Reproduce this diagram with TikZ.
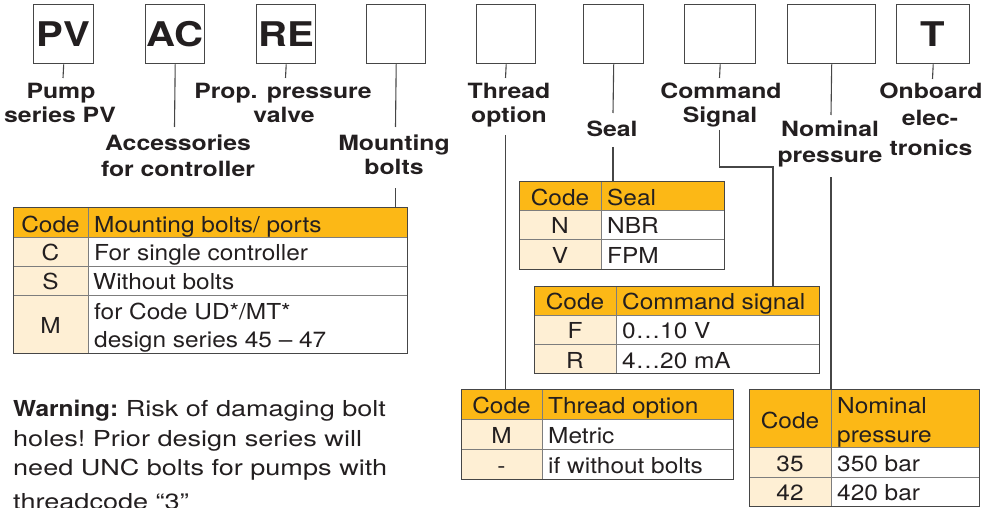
\documentclass[tikz,border=0pt]{standalone}
\usepackage{fontspec}
\setmainfont{TeX Gyre Heros}
\newfontfamily\lblfont[FakeStretch=1.18]{TeX Gyre Heros}
\newfontfamily\tabfont[FakeStretch=1.11]{TeX Gyre Heros}
\newfontfamily\notefont[FakeStretch=1.23]{TeX Gyre Heros}
\definecolor{ink}{RGB}{35,31,32}
\definecolor{hdr}{RGB}{252,184,22}
\definecolor{codebg}{RGB}{254,239,212}
\definecolor{rule}{RGB}{70,70,70}
\definecolor{gridc}{RGB}{125,125,125}

\begin{document}
\begin{tikzpicture}[x=1pt,y=-1pt,
  codebox/.style={draw=rule,line width=1.4pt,fill=white,inner sep=0pt,minimum height=59pt,
    anchor=north west,text=ink,font=\lblfont\bfseries\fontsize{34}{40}\selectfont},
  lbl/.style={inner sep=0pt,anchor=base,text=ink,font=\lblfont\bfseries\fontsize{21}{25}\selectfont},
  conn/.style={draw=rule,line width=1.1pt},
  tframe/.style={draw=rule,line width=1.3pt,inner sep=0pt,anchor=north west},
  gridline/.style={draw=gridc,line width=1pt},
  tc/.style={inner sep=0pt,anchor=base,text=ink,font=\tabfont\fontsize{22}{26}\selectfont},
  td/.style={tc,anchor=base west},
  wnote/.style={inner sep=0pt,anchor=base west,text=ink,
    font=\notefont\fontsize{22}{29}\selectfont\frenchspacing}
]
\useasboundingbox (0,0) rectangle (993,508);

% ---- ordering code boxes ----
\node[codebox,minimum width=60pt] (bPV) at (33,4) {PV};
\node[codebox,minimum width=59pt] (bAC) at (145,4) {AC};
\node[codebox,minimum width=59pt] (bRE) at (256,4) {RE};
\node[codebox,minimum width=59pt] (bMnt) at (366,4) {};
\node[codebox,minimum width=59pt] (bThr) at (476,4) {};
\node[codebox,minimum width=60pt] (bSeal) at (583,4) {};
\node[codebox,minimum width=71pt] (bCmd) at (684,4) {};
\node[codebox,minimum width=88pt] (bNom) at (787,4) {};
\node[codebox,minimum width=73pt] (bT) at (896,4) {T};

% ---- labels ----
\node[lbl] (lPVa) at (61,99) {Pump};
\node[lbl] (lPVb) at (60,123) {series PV};
\node[lbl] (lACa) at (178,150) {Accessories};
\node[lbl] (lACb) at (178,176) {for controller};
\node[lbl] (lREa) at (283,99) {Prop. pressure};
\node[lbl] (lREb) at (284,123) {valve};
\node[lbl] (lMnta) at (394,150) {Mounting};
\node[lbl] (lMntb) at (394,175) {bolts};
\node[lbl] (lThra) at (509,99) {Thread};
\node[lbl] (lThrb) at (509,123) {option};
\node[lbl] (lSeal) at (612,137) {Seal};
\node[lbl] (lCmda) at (721,99) {Command};
\node[lbl] (lCmdb) at (720,123) {Signal};
\node[lbl] (lNoma) at (830,137) {Nominal};
\node[lbl] (lNomb) at (830,163) {pressure};
\node[lbl] (lTa) at (931,99) {Onboard};
\node[lbl] (lTb) at (930,125) {elec-};
\node[lbl] (lTc) at (931,156) {tronics};

% ---- table: mounting bolts ----
\fill[hdr] (13,207) rectangle (407,237);
\fill[codebg] (13,237) rectangle (88,353);
\draw[gridline] (13,237) -- (407,237) (13,266) -- (407,266) (13,295) -- (407,295)
  (88,207) -- (88,353);
\node[tframe,minimum width=394pt,minimum height=146pt] (tMnt) at (13,207) {};
\node[tc] (mh1) at (50.5,232) {Code};
\node[td] (mh2) at (94,232) {Mounting bolts/ ports};
\node[tc] (m1a) at (50.5,260) {C};
\node[td] (m1b) at (94,260) {For single controller};
\node[tc] (m2a) at (50.5,289) {S};
\node[td] (m2b) at (93,289) {Without bolts};
\node[tc] (m3a) at (50.5,333) {M};
\node[td] (m3b) at (94,319) {for Code UD*/MT*};
\node[td] (m3c) at (94,347) {design series 45 – 47};

% ---- table: seal ----
\fill[hdr] (519,181) rectangle (724,210);
\fill[codebg] (519,210) rectangle (601,269);
\draw[gridline] (519,210) -- (724,210) (519,239) -- (724,239) (601,181) -- (601,269);
\node[tframe,minimum width=205pt,minimum height=88pt] (tSeal) at (519,181) {};
\node[tc] (sh1) at (560,205) {Code};
\node[td] (sh2) at (607,205) {Seal};
\node[tc] (s1a) at (560,233) {N};
\node[td] (s1b) at (607,233) {NBR};
\node[tc] (s2a) at (560,263) {V};
\node[td] (s2b) at (607,263) {FPM};

% ---- table: command signal ----
\fill[hdr] (534,286) rectangle (819,315);
\fill[codebg] (534,315) rectangle (616,373);
\draw[gridline] (534,315) -- (819,315) (534,344) -- (819,344) (616,286) -- (616,373);
\node[tframe,minimum width=285pt,minimum height=87pt] (tCmd) at (534,286) {};
\node[tc] (ch1) at (575,309) {Code};
\node[td] (ch2) at (622,309) {Command signal};
\node[tc] (c1a) at (575,338) {F};
\node[td] (c1b) at (622,338) {0…10 V};
\node[tc] (c2a) at (575,368) {R};
\node[td] (c2b) at (622,368) {4…20 mA};

% ---- table: thread option ----
\fill[hdr] (461,389) rectangle (733,419);
\fill[codebg] (461,419) rectangle (542,479);
\draw[gridline] (461,419) -- (733,419) (461,449) -- (733,449) (542,389) -- (542,479);
\node[tframe,minimum width=272pt,minimum height=90pt] (tThr) at (461,389) {};
\node[tc] (th1) at (501.5,413) {Code};
\node[td] (th2) at (548,413) {Thread option};
\node[tc] (t1a) at (501.5,443) {M};
\node[td] (t1b) at (548,443) {Metric};
\node[tc] (t2a) at (501.5,473) {-};
\node[td] (t2b) at (548,473) {if without bolts};

% ---- table: nominal pressure ----
\fill[hdr] (749,389) rectangle (979,447);
\fill[codebg] (749,447) rectangle (831,506);
\draw[gridline] (749,447) -- (979,447) (749,477) -- (979,477) (831,389) -- (831,506);
\node[tframe,minimum width=230pt,minimum height=117pt] (tNom) at (749,389) {};
\node[tc] (nh1) at (790,428) {Code};
\node[td] (nh2) at (837,413) {Nominal};
\node[td] (nh3) at (837,442) {pressure};
\node[tc] (n1a) at (790,471) {35};
\node[td] (n1b) at (837,471) {350 bar};
\node[tc] (n2a) at (790,500) {42};
\node[td] (n2b) at (837,500) {420 bar};

% ---- connectors ----
\coordinate (kPV) at (63,78);
\coordinate (kAC) at (174.5,127);
\coordinate (kRE) at (285.5,78);
\coordinate (kMntA) at (395.5,127);
\coordinate (kMntB) at (395.5,188);
\coordinate (kThrA) at (505.5,78);
\coordinate (kThrB) at (505.5,135);
\coordinate (kSealA) at (613,113);
\coordinate (kSealB) at (613,147);
\coordinate (kCmdA) at (719.5,78);
\coordinate (kCmdB) at (719.5,130);
\coordinate (kCmdC) at (719.5,167);
\coordinate (kCmdD) at (773,167);
\coordinate (kNomA) at (831,115);
\coordinate (kNomB) at (831,177);
\coordinate (kT) at (932.5,79);

\draw[conn] (bPV.south) -- (kPV);
\draw[conn] (bAC.south) -- (kAC);
\draw[conn] (bRE.south) -- (kRE);
\draw[conn] (bMnt.south) -- (kMntA);
\draw[conn] (kMntB) -- (kMntB |- tMnt.north);
\draw[conn] (bThr.south) -- (kThrA);
\draw[conn] (kThrB) -- (kThrB |- tThr.north);
\draw[conn] (bSeal.south) -- (kSealA);
\draw[conn] (kSealB) -- (kSealB |- tSeal.north);
\draw[conn] (bCmd.south) -- (kCmdA);
\draw[conn] (kCmdB) -- (kCmdC) -- (kCmdD) -- (kCmdD |- tCmd.north);
\draw[conn] (bNom.south) -- (kNomA);
\draw[conn] (kNomB) -- (kNomB |- tNom.north);
\draw[conn] (bT.south) -- (kT);

% ---- warning note ----
\node[wnote] (w1) at (13,416) {{\tabfont\bfseries Warning:} Risk of damaging bolt};
\node[wnote] (w2) at (13,446) {holes! Prior design series will};
\node[wnote] (w3) at (13,475) {need UNC bolts for pumps with};
\node[wnote] (w4) at (13,509) {threadcode “3”};
\end{tikzpicture}
\end{document}
